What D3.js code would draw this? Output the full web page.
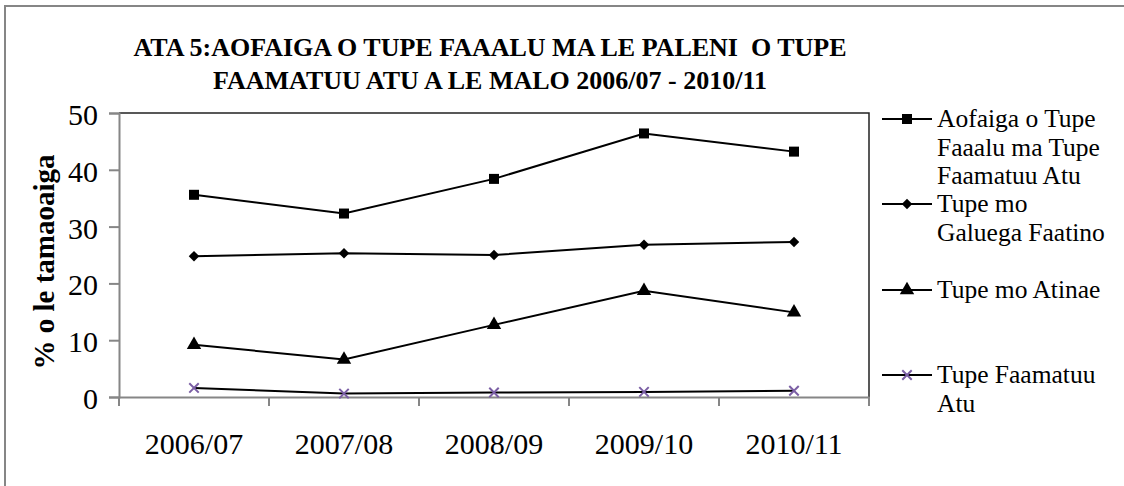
<!DOCTYPE html>
<html>
<head>
<meta charset="utf-8">
<script src="https://cdn.jsdelivr.net/npm/d3@7"></script>
<style>
  body { margin: 0; background: #fff; }
</style>
</head>
<body>
<div class="chart"></div>
<script>
// data
var years = ['2006/07', '2007/08', '2008/09', '2009/10', '2010/11'];
var totalSpend = [35.6, 32.3, 38.4, 46.4, 43.2];
var workSpend = [24.8, 25.3, 25.0, 26.8, 27.3];
var businessSpend = [9.2, 6.6, 12.7, 18.7, 14.9];
var grantSpend = [1.6, 0.6, 0.8, 0.9, 1.1];
var yTicks = [0, 10, 20, 30, 40, 50];
var titleLines = ['ATA 5:AOFAIGA O TUPE FAAALU MA LE PALENI  O TUPE', 'FAAMATUU ATU A LE MALO 2006/07 - 2010/11'];
var yTitle = '% o le tamaoaiga';

var series = [
  { name: ['Aofaiga o Tupe', 'Faaalu ma Tupe', 'Faamatuu Atu'], values: totalSpend, marker: 'square' },
  { name: ['Tupe mo', 'Galuega Faatino'], values: workSpend, marker: 'diamond' },
  { name: ['Tupe mo Atinae'], values: businessSpend, marker: 'triangle' },
  { name: ['Tupe Faamatuu', 'Atu'], values: grantSpend, marker: 'cross' }
];

var W = 1124, H = 486;
var plot = { left: 119, right: 869, top: 113, bottom: 397 };
var axisGray = '#868686';
var purple = '#7B5FA5';
var serif = '"Liberation Serif", "Times New Roman", serif';

var svg = d3.select('.chart')
  .append('svg')
    .attr('width', W)
    .attr('height', H)
    .style('font-family', serif);

// outer chart frame (only top/left visible in picture)
svg.append('rect')
  .attr('x', 5).attr('y', 6)
  .attr('width', W + 20).attr('height', H + 20)
  .style('fill', 'none')
  .style('stroke', axisGray)
  .style('stroke-width', 2);

// title
svg.append('g').selectAll('text')
  .data(titleLines)
  .enter()
  .append('text')
    .attr('x', 490)
    .attr('y', (d, i) => 56 + i * 33)
    .attr('text-anchor', 'middle')
    .style('font-family', serif)
    .style('font-size', '26px')
    .style('font-weight', 'bold')
    .style('white-space', 'pre')
    .text(d => d);

var xScale = d3.scaleBand()
  .domain(years)
  .range([plot.left, plot.right])
  .padding(0);

var yScale = d3.scaleLinear()
  .domain([0, 50])
  .range([plot.bottom, plot.top]);

// plot area border (top / right are dark)
svg.append('path')
  .attr('d', `M${plot.left},${plot.top}H${plot.right}V${plot.bottom}`)
  .style('fill', 'none')
  .style('stroke', '#222')
  .style('stroke-width', 1.5);

// y axis
var yAxis = svg.append('g')
  .attr('transform', `translate(${plot.left},0)`)
  .call(d3.axisLeft(yScale).tickValues(yTicks).tickSize(10).tickPadding(11))
  .attr('font-family', serif)
  .attr('font-size', 30);
yAxis.selectAll('text')
  .attr('dy', '0.38em')
  .style('font-family', serif)
  .style('font-size', '30px')
  .style('fill', '#000');

// x axis: labels centred in bands, tick marks on band edges
var xAxis = svg.append('g')
  .attr('transform', `translate(0,${plot.bottom})`)
  .call(d3.axisBottom(xScale).tickSize(0).tickPadding(36))
  .attr('font-family', serif)
  .attr('font-size', 30);
xAxis.selectAll('text')
  .style('font-family', serif)
  .style('font-size', '30px')
  .style('fill', '#000');
xAxis.selectAll('.edge')
  .data(years.map(d => xScale(d)).concat([plot.right]))
  .enter()
  .append('line')
    .attr('class', 'edge')
    .attr('x1', d => d).attr('x2', d => d)
    .attr('y1', 0).attr('y2', 9);

svg.selectAll('.domain, .tick line, .edge')
  .style('stroke', axisGray)
  .style('stroke-width', 2);

svg.append('text')
  .attr('transform', 'translate(54,262) rotate(-90)')
  .attr('text-anchor', 'middle')
  .style('font-family', serif)
  .style('font-size', '29px')
  .style('font-weight', 'bold')
  .text(yTitle);

var symbols = {
  square: d3.symbol().type(d3.symbolSquare).size(100),
  diamond: d3.symbol().type(d3.symbolDiamond2).size(70),
  triangle: d3.symbol().type(d3.symbolTriangle).size(90),
  cross: d3.symbol().type(d3.symbolX).size(60)
};

function drawMarker(g, type) {
  g.append('path')
    .attr('d', symbols[type]())
    .style('fill', type === 'cross' ? 'none' : '#000')
    .style('stroke', type === 'cross' ? purple : 'none')
    .style('stroke-width', 2);
}

var line = d3.line()
  .x((d, i) => xScale(years[i]) + xScale.bandwidth() / 2)
  .y(d => yScale(d));

series.forEach(s => {
  svg.append('path')
    .attr('d', line(s.values))
    .style('fill', 'none')
    .style('stroke', '#000')
    .style('stroke-width', 2);
  s.values.forEach((v, i) => {
    var g = svg.append('g')
      .attr('transform', `translate(${xScale(years[i]) + xScale.bandwidth() / 2},${yScale(v)})`);
    drawMarker(g, s.marker);
  });
});

// legend
var legendY = [119, 204, 290, 375];
series.forEach((s, k) => {
  var g = svg.append('g').attr('transform', `translate(0,${legendY[k]})`);
  g.append('line')
    .attr('x1', 882).attr('x2', 932)
    .attr('y1', 0).attr('y2', 0)
    .style('stroke', '#000')
    .style('stroke-width', 2);
  var m = g.append('g').attr('transform', 'translate(907,0)');
  drawMarker(m, s.marker);
  g.selectAll('text')
    .data(s.name)
    .enter()
    .append('text')
      .attr('x', 937)
      .attr('y', (d, i) => 8 + i * 28.5)
      .style('font-family', serif)
      .style('font-size', '25.5px')
      .text(d => d);
});
</script>
</body>
</html>
